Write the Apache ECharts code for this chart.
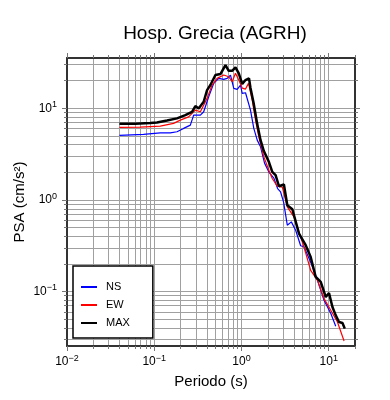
<!DOCTYPE html>
<html>
<head>
<meta charset="utf-8">
<script src="https://cdn.jsdelivr.net/npm/echarts@6/dist/echarts.min.js"></script>
<style>
html, body { margin: 0; padding: 0; background: #fff; }
#chart { width: 390px; height: 400px; }
</style>
</head>
<body>
<div id="chart"></div>
<script>
// periods (s) and PSA (cm/s2)
const periodsNS = [0.0399, 0.0754, 0.1172, 0.1527, 0.1823, 0.2172, 0.2593, 0.283, 0.3379, 0.3687, 0.4209, 0.4805, 0.5485, 0.6262, 0.6852, 0.7477, 0.8154, 0.8926, 0.9744, 1.019, 1.112, 1.268, 1.384, 1.515, 1.653, 1.838, 2.06, 2.351, 2.594, 2.807, 3.038, 3.35, 3.726, 4.175, 4.764, 5.202, 6.209, 7.413, 8.833, 10.54, 12.03];
const psaNS = [5.06, 5.19, 5.40, 5.40, 5.54, 6.03, 6.55, 8.43, 8.43, 9.16, 13.36, 18.71, 21.22, 20.70, 21.22, 23.06, 16.50, 16.09, 17.93, 14.55, 14.77, 9.56, 6.03, 4.49, 3.80, 2.52, 2.01, 1.73, 1.33, 1.22, 0.944, 0.529, 0.575, 0.466, 0.316, 0.308, 0.208, 0.133, 0.0801, 0.0578, 0.0417];

const periodsEW = [0.0399, 0.069, 0.1172, 0.1666, 0.199, 0.2479, 0.2961, 0.3379, 0.4033, 0.4606, 0.5256, 0.6262, 0.7146, 0.7818, 0.8534, 0.9311, 1.019, 1.112, 1.203, 1.327, 1.449, 1.581, 1.804, 2.06, 2.253, 2.572, 2.937, 3.35, 3.992, 5.202, 6.209, 7.413, 8.833, 10.54, 12.58, 14.99];
const psaEW = [6.18, 6.23, 6.39, 6.84, 7.43, 8.07, 9.56, 9.16, 12.83, 17.93, 21.22, 23.06, 22.10, 19.48, 24.07, 20.33, 16.63, 16.21, 18.71, 12.29, 7.43, 4.84, 2.95, 2.11, 1.71, 1.41, 1.38, 0.839, 0.652, 0.306, 0.170, 0.133, 0.0836, 0.0623, 0.0464, 0.0288];

const periodsMAX = [0.0399, 0.0605, 0.09, 0.1074, 0.14, 0.1823, 0.227, 0.2712, 0.2961, 0.323, 0.3687, 0.4033, 0.4402, 0.5027, 0.5737, 0.655, 0.7146, 0.7818, 0.8534, 0.9311, 1.019, 1.112, 1.22, 1.268, 1.384, 1.515, 1.653, 1.804, 2.06, 2.253, 2.459, 2.685, 3.064, 3.35, 3.826, 4.561, 5.443, 6.209, 7.092, 8.091, 9.239, 10.07, 11.03, 12.03, 13.12, 14.37, 15.27];
const psaMAX = [6.77, 6.80, 6.89, 7.01, 7.37, 7.76, 8.43, 9.16, 10.57, 9.97, 11.78, 15.81, 17.93, 23.06, 23.65, 29.66, 25.69, 25.69, 27.99, 24.07, 18.39, 20.33, 21.22, 16.63, 11.11, 6.72, 4.49, 3.41, 2.60, 2.02, 1.86, 1.41, 1.47, 0.875, 0.791, 0.429, 0.320, 0.238, 0.144, 0.127, 0.0871, 0.0963, 0.0677, 0.0549, 0.0464, 0.0453, 0.0393];

const xMajor = [0.01, 0.1, 1, 10];
const yMajor = [0.1, 1, 10];
const xRange = [0.01, 20];
const yRange = [0.0254, 35.4];

const lg = Math.log10;
const font = '"Liberation Sans", Arial, sans-serif';

// 1..9 x 10^k inside the range, in log units
function logTicks(range) {
    const out = [];
    for (let d = Math.floor(lg(range[0])); d <= Math.ceil(lg(range[1])); d++) {
        for (let m = 1; m <= 9; m++) {
            const v = m * Math.pow(10, d);
            if (v >= range[0] * 0.9999 && v <= range[1] * 1.0001) out.push(lg(v));
        }
    }
    return out;
}

const expLabel = v => {
    const e = Math.round(v);
    return '{b|10}{s|' + (e < 0 ? '\u2212' + (-e) : e) + '}';
};
const labelRich = {
    b: { fontSize: 12, lineHeight: 16, color: '#000', fontFamily: font },
    s: { fontSize: 9, verticalAlign: 'top', color: '#000', fontFamily: font }
};

const tickColor = '#777';
const gridColor = '#a0a0a0';
const frame = { show: true, onZero: false, lineStyle: { color: '#333', width: 2 } };

function axis(kind, position, range, opts) {
    return Object.assign({
        type: 'value',
        position: position,
        min: lg(range[0]),
        max: lg(range[1]),
        axisLine: { show: false, onZero: false },
        axisTick: { show: false },
        axisLabel: { show: false },
        splitLine: { show: false }
    }, opts);
}

function minorAxis(kind, position, range, grid) {
    return axis(kind, position, range, {
        axisLine: frame,
        axisTick: { show: true, customValues: logTicks(range), length: 3, lineStyle: { color: tickColor } },
        splitLine: { show: grid, lineStyle: { color: gridColor, width: 1 } }
    });
}

function majorAxis(kind, position, range, majors, labels, extra) {
    return axis(kind, position, range, Object.assign({
        axisTick: { show: true, customValues: majors.map(lg), length: 5, lineStyle: { color: tickColor } },
        axisLabel: labels ? {
            show: true, customValues: majors.map(lg), formatter: expLabel, rich: labelRich,
            margin: kind === 'x' ? 8 : 10
        } : { show: false }
    }, extra || {}));
}

const nameStyle = { fontSize: 15, color: '#000', fontFamily: font };

const chart = echarts.init(document.getElementById('chart'));
chart.setOption({
    animation: false,
    backgroundColor: '#fff',
    title: {
        text: 'Hosp. Grecia (AGRH)',
        left: 210,
        textAlign: 'center',
        top: 19,
        textStyle: { fontSize: 19, fontWeight: 'normal', color: '#000', fontFamily: font }
    },
    grid: { left: 67, right: 35, top: 58, bottom: 54 },
    xAxis: [
        minorAxis('x', 'bottom', xRange, true),
        majorAxis('x', 'bottom', xRange, xMajor, true, {
            name: 'Periodo (s)', nameLocation: 'middle', nameGap: 28, nameTextStyle: nameStyle
        }),
        minorAxis('x', 'top', xRange, false),
        majorAxis('x', 'top', xRange, xMajor, false)
    ],
    yAxis: [
        minorAxis('y', 'left', yRange, true),
        majorAxis('y', 'left', yRange, yMajor, true, {
            name: 'PSA (cm/s²)', nameLocation: 'middle', nameGap: 40, nameMoveOverlap: false,
            nameTextStyle: nameStyle
        }),
        minorAxis('y', 'right', yRange, false),
        majorAxis('y', 'right', yRange, yMajor, false)
    ],
    legend: {
        orient: 'vertical',
        left: 73,
        top: 266,
        padding: [14, 23, 8, 8],
        itemGap: 4,
        itemWidth: 16,
        itemHeight: 2,
        icon: 'rect',
        borderColor: '#000',
        borderWidth: 1.5,
        borderRadius: 0,
        backgroundColor: '#fff',
        textStyle: { fontSize: 11, lineHeight: 14, color: '#000', fontFamily: font, padding: [0, 0, 0, 4] },
        data: ['NS', 'EW', 'MAX']
    },
    series: [
        {
            name: 'NS', type: 'line', showSymbol: false, symbol: 'none',
            itemStyle: { color: '#0000ff' },
            lineStyle: { color: '#0000ff', width: 1.2 },
            data: periodsNS.map((t, i) => [lg(t), lg(psaNS[i])])
        },
        {
            name: 'EW', type: 'line', showSymbol: false, symbol: 'none',
            itemStyle: { color: '#ff0000' },
            lineStyle: { color: '#ff0000', width: 1.2 },
            data: periodsEW.map((t, i) => [lg(t), lg(psaEW[i])])
        },
        {
            name: 'MAX', type: 'line', showSymbol: false, symbol: 'none',
            itemStyle: { color: '#000' },
            lineStyle: { color: '#000', width: 2.5 },
            data: periodsMAX.map((t, i) => [lg(t), lg(psaMAX[i])])
        }
    ]
});
</script>
</body>
</html>
